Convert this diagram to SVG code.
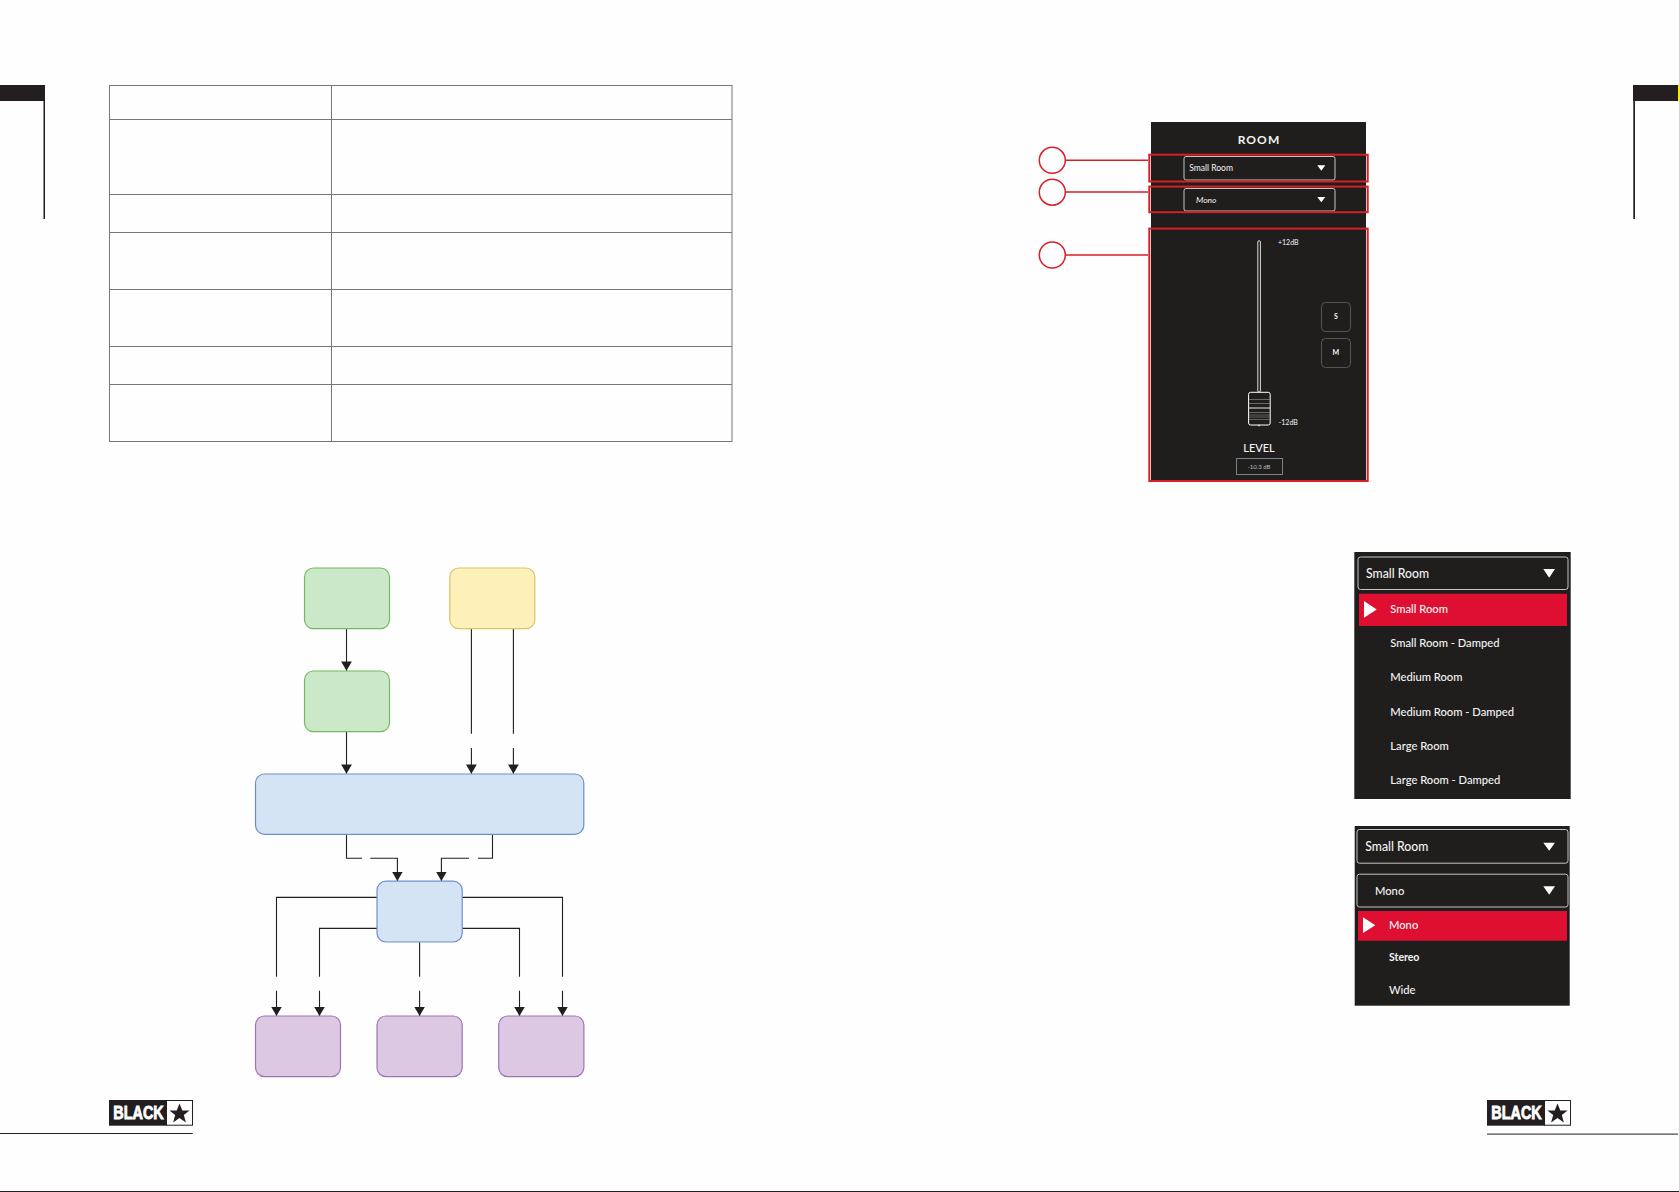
<svg xmlns="http://www.w3.org/2000/svg" width="1679" height="1192" viewBox="0 0 1679 1192">
<style>
text{font-family:"Lato","Liberation Sans",sans-serif;fill:#f4f4f4}
.grid{stroke:#777;stroke-width:1;fill:none}
.tab{fill:#231f20}
.green{fill:#cbe9c9;stroke:#74b95f;stroke-width:1.2}
.yellow{fill:#fdf0b8;stroke:#dcc264;stroke-width:1.2}
.blue{fill:#d4e4f5;stroke:#6d8fc8;stroke-width:1.2}
.purple{fill:#dcc8e2;stroke:#9c75b5;stroke-width:1.2}
.conn{fill:none;stroke:#231f20;stroke-width:1.1}
.panel{fill:#1f1e1d}
.red{fill:none;stroke:#d71f26;stroke-width:2}
.dd{fill:none;stroke:#c4c4c4;stroke-width:1}
.tri{fill:#fff}
.btn{fill:none;stroke:#555;stroke-width:1}
.hi{fill:#de0f30}
.item{font-size:11.2px;font-weight:500}
.big{font-size:13px;font-weight:500}
.small{font-size:7px}
.logo{font-family:"Liberation Sans",sans-serif;font-weight:700;font-size:17.7px;fill:#fff;stroke:#fff;stroke-width:.8}
</style>
<defs>
<marker id="arr" markerUnits="userSpaceOnUse" markerWidth="9.3" markerHeight="10.8" refX="9.3" refY="5.4" orient="auto" viewBox="0 0 9.3 10.8"><path d="M0,0L9.3,5.4L0,10.8Z" fill="#231f20"/></marker>
<g id="logoMark">
<rect x="0" y="0" width="58" height="25.7" fill="#231f20"/>
<rect x="57.5" y=".5" width="26" height="24.7" fill="#fff" stroke="#231f20"/>
<polygon points="70.5,3.6 73.3,10.6 80.6,10.6 74.8,15.1 76.9,22.4 70.5,18.1 64.1,22.4 66.2,15.1 60.4,10.6 67.7,10.6" fill="#231f20"/>
</g>
</defs>
<rect width="1679" height="1192" fill="#fefefe"/>

<g id="page-marks">
<rect class="tab" x="0" y="85" width="45" height="16"/>
<rect class="tab" x="43.5" y="85" width="1.5" height="134"/>
<rect class="tab" x="1633" y="85" width="45" height="16"/>
<rect class="tab" x="1633.3" y="85" width="1.7" height="134"/>
<rect x="1678" y="85" width="1" height="16" fill="#f5e800"/>
<rect x="0" y="1133" width="192.7" height="1" fill="#231f20"/>
<rect x="1487" y="1133.6" width="191" height="1" fill="#231f20"/>
<rect x="0" y="1191" width="1679" height="1" fill="#231f20"/>
</g>

<g id="logo-left" transform="translate(109 1100)"><use href="#logoMark"/><text class="logo" x="4.3" y="19.3" textLength="50.5" lengthAdjust="spacingAndGlyphs">BLACK</text></g>
<g id="logo-right" transform="translate(1487 1100)"><use href="#logoMark"/><text class="logo" x="4.3" y="19.3" textLength="50.5" lengthAdjust="spacingAndGlyphs">BLACK</text></g>

<g id="table" class="grid">
<rect x="109.5" y="85.5" width="622.5" height="356"/>
<path d="M331.5,85.5V441.5M109.5,119.5H732M109.5,194.5H732M109.5,232.5H732M109.5,289.5H732M109.5,346.5H732M109.5,384.5H732"/>
</g>

<g id="connectors" class="conn">
<path d="M346.5,628.7V670.7" marker-end="url(#arr)"/>
<path d="M346.5,731.7V773.7" marker-end="url(#arr)"/>
<path d="M471.4,628.7V733.7M471.4,748V773.7" marker-end="url(#arr)"/>
<path d="M513.4,628.7V733.7M513.4,748V773.7" marker-end="url(#arr)"/>
<path d="M346.5,834.3V858.3H362M370.3,858.3H397.4V881" marker-end="url(#arr)"/>
<path d="M492.5,834.3V858.3H478M469,858.3H441.4V881" marker-end="url(#arr)"/>
<path d="M377,897.4H276.5V976.7M276.5,990.7V1016" marker-end="url(#arr)"/>
<path d="M377,928.4H319.5V976.7M319.5,990.7V1016" marker-end="url(#arr)"/>
<path d="M419.6,942.3V976.7M419.6,990.7V1016" marker-end="url(#arr)"/>
<path d="M462.3,928.4H519.5V976.7M519.5,990.7V1016" marker-end="url(#arr)"/>
<path d="M462.3,897.4H562.5V976.7M562.5,990.7V1016" marker-end="url(#arr)"/>
</g>

<g id="node-green-1"><rect class="green" x="304.5" y="568" width="85" height="60.7" rx="9"/></g>
<g id="node-yellow"><rect class="yellow" x="449.8" y="568" width="85" height="60.7" rx="9"/></g>
<g id="node-green-2"><rect class="green" x="304.5" y="671" width="85" height="60.7" rx="9"/></g>
<g id="node-blue-wide"><rect class="blue" x="255.5" y="774" width="328.3" height="60.3" rx="9"/></g>
<g id="node-blue-small"><rect class="blue" x="377" y="881.2" width="85.2" height="60.8" rx="9"/></g>
<g id="node-purple-1"><rect class="purple" x="255.5" y="1016" width="85" height="60.6" rx="9"/></g>
<g id="node-purple-2"><rect class="purple" x="377" y="1016" width="85.2" height="60.6" rx="9"/></g>
<g id="node-purple-3"><rect class="purple" x="498.7" y="1016" width="85.2" height="60.6" rx="9"/></g>

<g id="room-panel">
<rect class="panel" x="1151" y="122" width="215" height="358"/>
<text x="1259" y="144" text-anchor="middle" font-size="12" font-weight="700" letter-spacing="1.1">ROOM</text>
<rect class="dd" x="1184" y="156.5" width="151" height="23.5" rx="2"/>
<text x="1189.3" y="171" font-size="8.5">Small Room</text>
<path class="tri" d="M1317.3,165.3H1325.3L1321.3,170.7Z"/>
<rect class="dd" x="1184" y="188.5" width="151" height="22.5" rx="2"/>
<text x="1196" y="202.7" font-size="8.5" font-style="italic">Mono</text>
<path class="tri" d="M1317.3,197H1325.3L1321.3,202.3Z"/>
<rect x="1257.8" y="240.7" width="2.6" height="151.5" rx="1.3" fill="none" stroke="#f0f0f0" stroke-width=".9"/>
<text class="small" x="1278" y="245">+12dB</text>
<rect x="1248.6" y="392.3" width="21.6" height="32.7" rx="2" fill="#1f1e1d" stroke="#fff" stroke-width="1"/>
<path d="M1249,399.5H1270M1249,403.5H1270M1249,412.5H1270" stroke="#8a8a8a" stroke-width=".7" fill="none"/>
<path d="M1249,408H1270" stroke="#fff" stroke-width=".9" fill="none"/>
<path d="M1249,415H1270M1249,417H1270M1249,419.5H1270" stroke="#8a8a8a" stroke-width=".6" fill="none"/>
<circle cx="1259" cy="425.6" r=".8" fill="#fff"/>
<text class="small" x="1278.7" y="425">-12dB</text>
<rect class="btn" x="1321.5" y="302.5" width="29" height="29" rx="4"/>
<text x="1335.8" y="319.3" font-size="7" font-weight="700" text-anchor="middle">S</text>
<rect class="btn" x="1321.5" y="338.5" width="29" height="29" rx="4"/>
<text x="1335.8" y="354.7" font-size="7" font-weight="700" text-anchor="middle">M</text>
<text x="1259" y="451.7" font-size="11" font-weight="500" text-anchor="middle">LEVEL</text>
<rect x="1236.5" y="458.5" width="46" height="16" fill="none" stroke="#7a8488" stroke-width="1"/>
<text x="1259" y="468.7" font-size="6" text-anchor="middle" style="fill:#bbb">-10.3 dB</text>
</g>

<g id="callouts">
<g fill="none" stroke="#d71f26" stroke-width="1.5">
<circle cx="1052.3" cy="160.3" r="13"/>
<circle cx="1052.3" cy="192.2" r="13"/>
<circle cx="1052.3" cy="255" r="13"/>
<path d="M1065.3,160.3H1148M1065.3,192H1148M1065.3,255H1148"/>
</g>
<rect class="red" x="1149.3" y="154.7" width="218.4" height="26.8"/>
<rect class="red" x="1149.3" y="186.6" width="218.4" height="25.6"/>
<rect class="red" x="1149.3" y="228.6" width="218.4" height="252.4"/>
</g>

<g id="menu-room">
<rect class="panel" x="1354.3" y="552" width="216.4" height="247"/>
<rect class="dd" x="1358" y="557" width="210" height="32.5" rx="2.5"/>
<text class="big" x="1366" y="577.7" textLength="63" lengthAdjust="spacingAndGlyphs">Small Room</text>
<path class="tri" d="M1543.3,569H1555L1549.2,577.7Z"/>
<rect class="hi" x="1359" y="593.7" width="208" height="32.3"/>
<path class="tri" d="M1364,601L1376.7,609.4L1364,617.7Z"/>
<text class="item" x="1390.3" y="612.7">Small Room</text>
<text class="item" x="1390.3" y="646.7">Small Room - Damped</text>
<text class="item" x="1390.3" y="681">Medium Room</text>
<text class="item" x="1390.3" y="715.7">Medium Room - Damped</text>
<text class="item" x="1390.3" y="750">Large Room</text>
<text class="item" x="1390.3" y="783.7">Large Room - Damped</text>
</g>

<g id="menu-stereo">
<rect class="panel" x="1354.7" y="826" width="215" height="179.7"/>
<rect class="dd" x="1357" y="829.5" width="211" height="33.7" rx="2.5"/>
<text class="big" x="1365.3" y="851" textLength="63" lengthAdjust="spacingAndGlyphs">Small Room</text>
<path class="tri" d="M1543.3,842.7H1555L1549.2,850.7Z"/>
<rect class="dd" x="1357" y="874.2" width="211" height="32.8" rx="2.5"/>
<text class="item" x="1375" y="895">Mono</text>
<path class="tri" d="M1543.3,886.3H1555L1549.2,894.7Z"/>
<rect class="hi" x="1358" y="911" width="209" height="29.7"/>
<path class="tri" d="M1363,917.3L1375.3,925.2L1363,933Z"/>
<text class="item" x="1389" y="928.7">Mono</text>
<text class="item" x="1389" y="961" style="font-size:10.5px;font-weight:700">Stereo</text>
<text class="item" x="1389" y="994">Wide</text>
</g>
</svg>
